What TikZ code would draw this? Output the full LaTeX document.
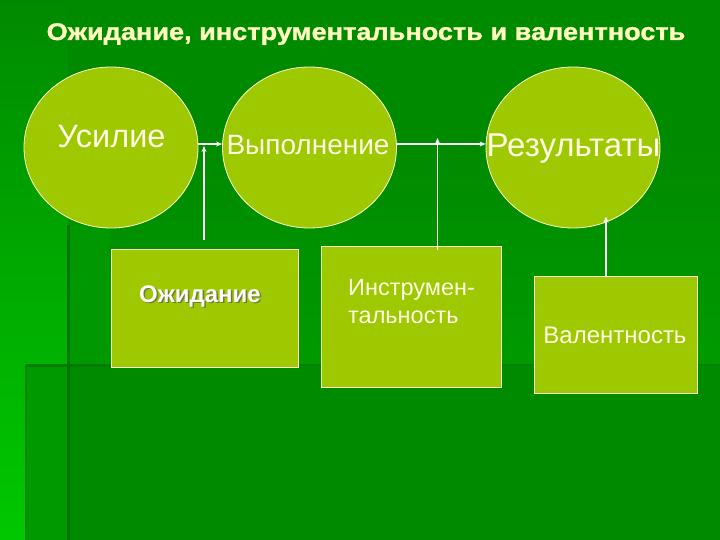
\documentclass[tikz,border=0pt]{standalone}
\usepackage{fontspec}
\setmainfont{Liberation Sans}
\newfontfamily\heavy[FakeStretch=1.13,FakeBold=1.2]{Liberation Sans}
\usetikzlibrary{arrows.meta,shapes.geometric}
\definecolor{bgc}{HTML}{008A00}
\definecolor{bgl}{HTML}{00C800}
\definecolor{bgm}{HTML}{009A00}
\definecolor{bgd}{HTML}{007400}
\definecolor{lg}{HTML}{9EC800}
\definecolor{cream}{HTML}{FFFFCC}
\definecolor{titlec}{HTML}{FFFFC0}
\definecolor{txt}{HTML}{FFFFE6}
\definecolor{shad}{HTML}{6E7A3A}
\tikzset{
  circ/.style={ellipse, draw=cream, line width=0.8pt, fill=lg, minimum width=174pt, minimum height=161pt, inner sep=0pt},
  boxs/.style={rectangle, draw=cream, line width=1pt, fill=lg, inner sep=0pt},
  arr/.style={-{Stealth[length=6pt,width=5pt]}, draw=white, line width=1.3pt},
  ctext/.style={text=txt, anchor=base, inner sep=0pt},
}
\begin{document}
\begin{tikzpicture}[x=1pt,y=-1pt]
\useasboundingbox (0,0) rectangle (720,540);
% background
\fill[bgc] (0,0) rectangle (720,540);
\shade[top color=bgc, bottom color=bgl] (0,0) rectangle (68,540);
\shade[top color=bgc, bottom color=bgm] (68,144) rectangle (720,365);
\fill[bgm!85!bgc] (68,225) rectangle (110,365);
\fill[bgm] (26,365) rectangle (68,540);
\fill[bgd!70!bgc] (26,364) rectangle (112,366.5);
\fill[bgd!35!bgc] (112,364) rectangle (720,366);
\fill[bgd] (66.5,225) rectangle (70,540);
\fill[bgd!50!bgm] (25,365) rectangle (27,540);
% title
\node[text=titlec, anchor=base, inner sep=0pt, font=\heavy\bfseries\fontsize{24}{28}\selectfont] (title) at (366,40) {Ожидание, инструментальность и валентность};
% circles
\node[circ] (us) at (111,147.5) {};
\node[circ] (vy) at (309.5,147.5) {};
\node[circ] (re) at (573,147.5) {};
\node[ctext, font=\fontsize{32.5}{36}\selectfont] (ust) at (111.5,148) {Усилие};
\node[ctext, font=\fontsize{28}{32}\selectfont] (vyt) at (308,155) {Выполнение};
\node[ctext, font=\fontsize{33}{37}\selectfont] (ret) at (573.5,157) {Результаты};
% boxes
\node[boxs, minimum width=187pt, minimum height=118pt] (oz) at (204.5,308) {};
\node[boxs, minimum width=180pt, minimum height=141pt] (in) at (411,316.5) {};
\node[boxs, minimum width=163pt, minimum height=117pt] (va) at (615.5,334.5) {};
\node[ctext, text=shad, font=\bfseries\fontsize{24}{28}\selectfont] (ozs) at (201.5,303.5) {Ожидание};
\node[ctext, text=white, font=\bfseries\fontsize{24}{28}\selectfont] (ozt) at (200,302) {Ожидание};
\node[text=txt, anchor=base west, inner sep=0pt, font=\fontsize{23.5}{28}\selectfont] (int1) at (348,295) {Инструмен-};
\node[text=txt, anchor=base west, inner sep=0pt, font=\fontsize{23.5}{28}\selectfont] (int2) at (348,323) {тальность};
\node[ctext, font=\fontsize{24}{28}\selectfont] (vat) at (615,343) {Валентность};
% connectors
\coordinate (e1) at (204,240);
\coordinate (j1) at (204,146);
\coordinate (e2) at (437.5,250);
\coordinate (j2) at (437.5,138);
\draw[arr] ([yshift=3.5pt]us.east) -- ([yshift=3.5pt]vy.west);
\draw[arr] ([yshift=3.5pt]vy.east) -- ([yshift=3.5pt]re.west);
\draw[arr] (e1) -- (j1);
\draw[arr] (e2) -- (j2);
\draw[arr] ([xshift=-9.5pt]va.north) -- ++(0,-59);
\end{tikzpicture}
\end{document}
